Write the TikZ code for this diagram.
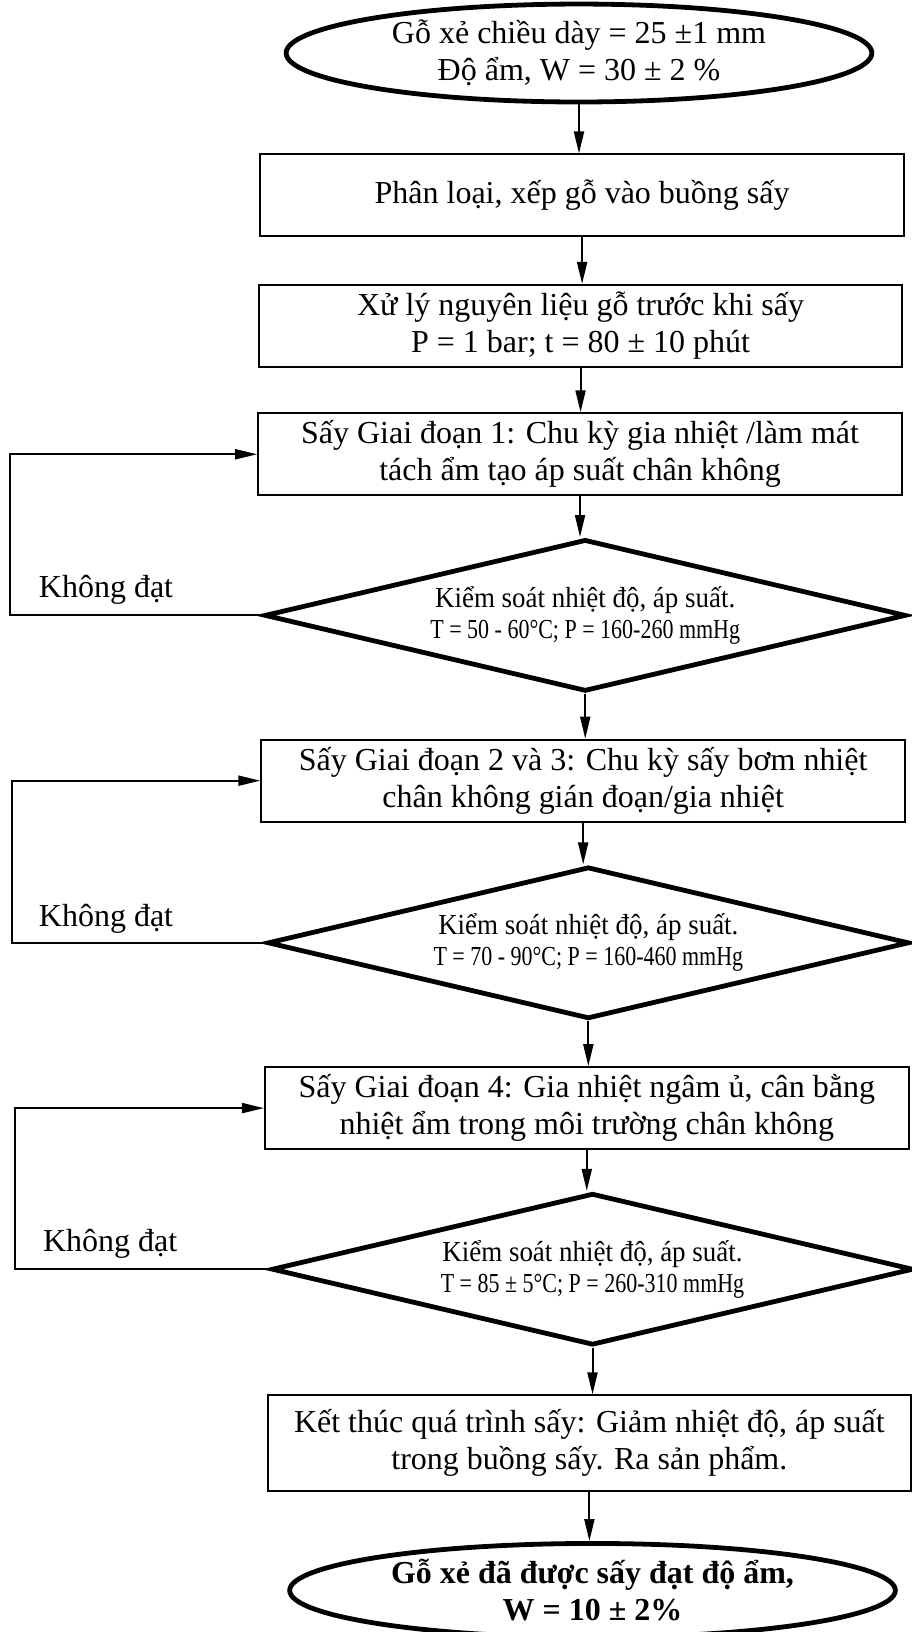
\documentclass[tikz,border=0pt]{standalone}
\usepackage{fontspec}
\setmainfont{Liberation Serif}
\usetikzlibrary{arrows.meta, shapes.geometric, positioning, calc}
\newcommand{\flowto}[2]
{
	\draw[flow] (#1.south) -- (#1.south |- #2.north)
}
\newcommand{\retry}[3]
{
	\draw[flow] (#2.west) -- (#1,0 |- #2.west) |- (#3.west)
}
\newcommand{\checktext}[1]{\scalebox{0.93}[1]{\fontsize{14.5pt}{15.5pt}\selectfont Kiểm soát nhiệt độ, áp suất.}\\\scalebox{0.8}[1]{#1}}

\begin{document}
\begin{tikzpicture}[x=0.52pt, y=-0.52pt,
every node/.append style={align=center, font=\fontsize{16pt}{18.5pt}\selectfont},
flow/.style={line width=1pt, -{Triangle[length=11pt, width=5pt]}},
stage/.style={draw, line width=1pt, shape=rectangle, minimum width=322pt, minimum height=41pt, inner sep=2pt},
decision/.style={draw, line width=2.4pt, shape=diamond, aspect=4.2, minimum width=321pt, minimum height=76pt, inner sep=0pt, font=\fontsize{13.75pt}{15.5pt}\selectfont},
terminal/.style={draw, line width=2.4pt, shape=ellipse, inner sep=0pt}]

\useasboundingbox (0,0) rectangle (877,1570);

\node[terminal, minimum width=293pt, minimum height=49pt] at (557,51) (start){Gỗ xẻ chiều dày = 25 ±1 mm\\Độ ẩm, W = 30 ± 2 \%};

\node[stage] at (560,188) (sort){Phân loại, xếp gỗ vào buồng sấy};
\node[stage] at (558.5,313.5) (prep){Xử lý nguyên liệu gỗ trước khi sấy\\P = 1 bar; t = 80 ± 10 phút};
\node[stage] at (558,437) (stage1){Sấy Giai đoạn 1: Chu kỳ gia nhiệt /làm mát\\tách ẩm tạo áp suất chân không};
\node[decision] at (563,592) (check1){\checktext{T = 50 - 60°C; P = 160-260 mmHg}};

\node[stage] at (561,751) (stage2){Sấy Giai đoạn 2 và 3: Chu kỳ sấy bơm nhiệt\\chân không gián đoạn/gia nhiệt};
\node[decision] at (566,907) (check2){\checktext{T = 70 - 90°C; P = 160-460 mmHg}};

\node[stage] at (564.5,1066) (stage3){Sấy Giai đoạn 4: Gia nhiệt ngâm ủ, cân bằng\\nhiệt ẩm trong môi trường chân không};
\node[decision] at (570,1221) (check3){\checktext{T = 85 ± 5°C; P = 260-310 mmHg}};

\node[stage, minimum height=48pt] at (567,1388.5) (finish){Kết thúc quá trình sấy: Giảm nhiệt độ, áp suất\\trong buồng sấy. Ra sản phẩm.};
\node[terminal, minimum width=303pt, minimum height=47pt, font=\bfseries\fontsize{16pt}{18.5pt}\selectfont] at (570,1530) (end){Gỗ xẻ đã được sấy đạt độ ẩm,\\W = 10 ± 2\%};

\node at (102,567) (fail1){Không đạt};
\node at (102,884) (fail2){Không đạt};
\node at (106,1197) (fail3){Không đạt};

\flowto{start}{sort};
\flowto{sort}{prep};
\flowto{prep}{stage1};
\flowto{stage1}{check1};
\flowto{check1}{stage2};
\flowto{stage2}{check2};
\flowto{check2}{stage3};
\flowto{stage3}{check3};
\flowto{check3}{finish};
\flowto{finish}{end};
\retry{10}{check1}{stage1};
\retry{12}{check2}{stage2};
\retry{14}{check3}{stage3};
\end{tikzpicture}
\end{document}
